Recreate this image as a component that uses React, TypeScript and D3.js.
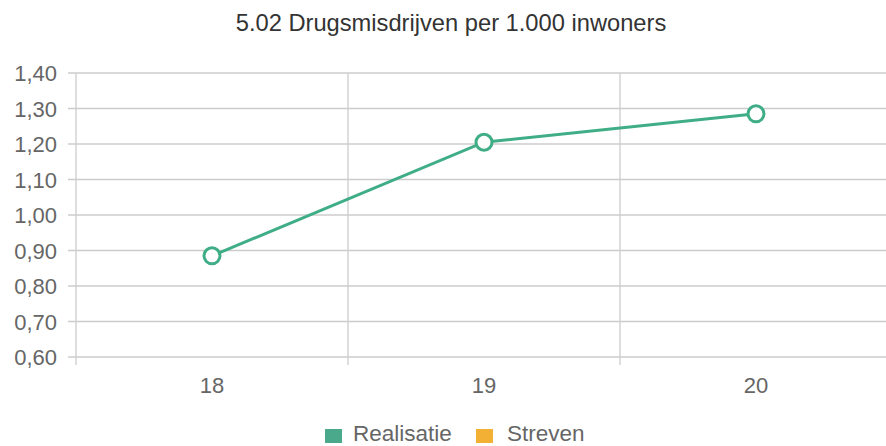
import React from "react";
import * as d3 from "d3";

const categories = ["18", "19", "20"];
const realisatie = [0.885, 1.205, 1.285];
const yTicks = [0.6, 0.7, 0.8, 0.9, 1.0, 1.1, 1.2, 1.3, 1.4];
const legendItems = ["Realisatie", "Streven"];
const legendColors = ["#4aa98a", "#f2b134"];
const title = "5.02 Drugsmisdrijven per 1.000 inwoners";

export default function App() {
  const W = 886, H = 446;
  const left = 76, right = 892, top = 73, bottom = 357;
  const x = d3.scaleBand<string>().domain(categories).range([left, right]);
  const y = d3.scaleLinear().domain([0.6, 1.4]).range([bottom, top]);
  const line = d3
    .line<number>()
    .x((_, i) => (x(categories[i]) as number) + x.bandwidth() / 2)
    .y((d) => y(d));
  const font = "'Liberation Sans', Arial, sans-serif";
  const fmt = (v: number) => v.toFixed(2).replace(".", ",");
  const boundaries = categories.map((c) => x(c) as number);
  return (
    <svg
      width={W}
      height={H}
      style={{ position: "absolute", left: 0, top: 0, background: "#fff" }}
      fontFamily={font}
    >
      <text x={451} y={31} textAnchor="middle" fontSize={23.7} fill="#333">
        {title}
      </text>
      {yTicks.map((t) => (
        <g key={t}>
          <line x1={left - 8} x2={W} y1={y(t)} y2={y(t)} stroke="#ccc" strokeWidth={1.3} />
          <text x={57} y={y(t) + 8} textAnchor="end" fontSize={22} fill="#666">
            {fmt(t)}
          </text>
        </g>
      ))}
      {boundaries.map((b, i) => (
        <line
          key={i}
          x1={b}
          x2={b}
          y1={top}
          y2={bottom + 8}
          stroke="#ccc"
          strokeWidth={1.3}
        />
      ))}
      {categories.map((c) => (
        <text
          key={c}
          x={(x(c) as number) + x.bandwidth() / 2}
          y={393}
          textAnchor="middle"
          fontSize={22}
          fill="#666"
        >
          {c}
        </text>
      ))}
      <path d={line(realisatie) || ""} fill="none" stroke="#3fae87" strokeWidth={3} />
      {realisatie.map((v, i) => (
        <circle
          key={i}
          cx={(x(categories[i]) as number) + x.bandwidth() / 2}
          cy={y(v)}
          r={8}
          fill="#fff"
          stroke="#3fae87"
          strokeWidth={3}
        />
      ))}
      <g>
        <rect x={325} y={429} width={17} height={14} fill={legendColors[0]} />
        <text x={353} y={441} fontSize={22.5} fill="#666">
          {legendItems[0]}
        </text>
        <rect x={476} y={429} width={17} height={14} fill={legendColors[1]} />
        <text x={507} y={441} fontSize={22.5} fill="#666">
          {legendItems[1]}
        </text>
      </g>
    </svg>
  );
}
